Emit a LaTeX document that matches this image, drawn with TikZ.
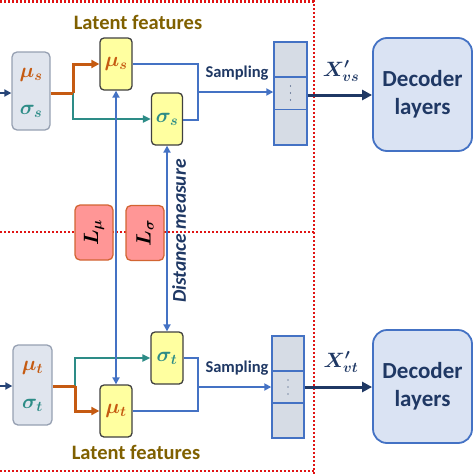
\documentclass[tikz,border=0pt]{standalone}
\usepackage{amsmath,amssymb,bm}
\usepackage{fontspec}
\setmainfont{Carlito}
\usetikzlibrary{arrows.meta,calc}
\definecolor{orng}{RGB}{197,90,17}
\definecolor{tealc}{RGB}{45,140,135}
\definecolor{blu}{RGB}{68,114,196}
\definecolor{navy}{RGB}{31,56,100}
\definecolor{olive}{RGB}{128,96,0}
\definecolor{redd}{RGB}{224,20,20}
\definecolor{yel}{RGB}{255,255,160}
\definecolor{encfill}{RGB}{224,229,238}
\definecolor{encdraw}{RGB}{150,160,178}
\definecolor{salmon}{RGB}{255,150,150}
\definecolor{salmondraw}{RGB}{210,100,50}
\definecolor{decfill}{RGB}{218,227,243}
\definecolor{vecfill}{RGB}{214,220,229}
\begin{document}
\begin{tikzpicture}[x=1pt,y=-1pt,
  encbox/.style={draw=encdraw,fill=encfill,line width=1.3pt,rounded corners=5pt,minimum width=38pt,minimum height=78pt,inner sep=0pt},
  latbox/.style={draw=black!75,fill=yel,line width=1.3pt,rounded corners=4pt,minimum width=32pt,minimum height=52pt,inner sep=0pt},
  lossbox/.style={draw=salmondraw,fill=salmon,line width=1.3pt,rounded corners=5pt,minimum width=38pt,minimum height=55pt,inner sep=0pt},
  vecbox/.style={draw=blu,fill=vecfill,line width=1.4pt,minimum width=33pt,minimum height=103pt,inner sep=0pt},
  decbox/.style={draw=blu,fill=decfill,line width=1.8pt,rounded corners=14pt,minimum width=99pt,minimum height=113pt,inner sep=0pt,align=center,text=navy,font=\fontsize{23}{28}\selectfont\bfseries},
  blueline/.style={draw=blu,line width=2pt},
  barrow/.style={blueline,-{Triangle[length=7pt,width=7pt]}},
  oline/.style={draw=orng,line width=3pt},
  tline/.style={draw=tealc,line width=2pt},
  outarrow/.style={draw=navy,line width=3pt,-{Triangle[length=10pt,width=10pt]}},
  redline/.style={draw=redd,line width=2.2pt,dash pattern=on 1.8pt off 2.2pt},
  latlabel/.style={text=olive,font=\fontsize{20.5}{22}\selectfont\bfseries},
  samplabel/.style={text=navy,font=\fontsize{16.5}{18}\selectfont\bfseries},
  mathlabel/.style={font=\fontsize{22}{24}\selectfont},
  lossl/.style={rotate=90,font=\fontsize{22}{24}\selectfont}
]
\useasboundingbox (0,0) rectangle (474,474);
% red dotted frames
\draw[redline] (0,1.5) -- (314,1.5);
\draw[redline] (0,232) -- (314,232);
\draw[redline] (0,471) -- (314,471);
\draw[redline] (314,0) -- (314,474);

% loss boxes
\node[lossbox] (Lmu) at (94,232.5) {};
\node[lossl] (Lmut) at (Lmu) {$\bm{L_{\mu}}$};
\node[lossbox] (Lsig) at (145,233) {};
\node[lossl] (Lsigt) at (Lsig) {$\bm{L_{\sigma}}$};

% encoder boxes
\node[encbox] (encS) at (31,91) {};
\node[mathlabel,text=orng] (muSlab) at (31,75) {$\bm{\mu_s}$};
\node[mathlabel,text=tealc] (sigSlab) at (31,111) {$\bm{\sigma_s}$};
\node[encbox,minimum height=80pt,minimum width=39pt] (encT) at (32.5,385) {};
\node[mathlabel,text=orng] (muTlab) at (32.5,368) {$\bm{\mu_t}$};
\node[mathlabel,text=tealc] (sigTlab) at (32.5,405) {$\bm{\sigma_t}$};

% latent boxes
\node[latbox] (muS) at (116,64) {\fontsize{20}{22}\selectfont\color{orng}$\bm{\mu_s}$};
\node[latbox,minimum width=31pt] (sigS) at (167,119) {\fontsize{20}{22}\selectfont\color{tealc}$\bm{\sigma_s}$};
\node[latbox] (sigT) at (167,358) {\fontsize{20}{22}\selectfont\color{tealc}$\bm{\sigma_t}$};
\node[latbox] (muT) at (116,411) {\fontsize{20}{22}\selectfont\color{orng}$\bm{\mu_t}$};

% titles
\node[latlabel] (latS) at (138,22) {Latent features};
\node[latlabel] (latT) at (136,452) {Latent features};

% vectors
\node[vecbox] (vecS) at (290.5,93.5) {};
\draw[blu,line width=1.4pt] (274,77) -- (307,77) (274,109.5) -- (307,109.5);
\foreach \yy in {86,93,100} \fill[navy] (290.5,\yy) circle (0.7pt);
\node[vecbox,minimum width=32pt,minimum height=102pt] (vecT) at (288,387) {};
\draw[blu,line width=1.4pt] (272,371) -- (304,371) (272,403) -- (304,403);
\foreach \yy in {380,387,394} \fill[navy] (288,\yy) circle (0.7pt);

% decoders
\node[decbox] (decS) at (422.5,94.5) {Decoder\\layers};
\node[decbox] (decT) at (422.5,386.5) {Decoder\\layers};

% inputs
\coordinate (inS) at (0,93);
\coordinate (inT) at (0,386);
\draw[draw=navy!80!blu,line width=2pt,-{Triangle[length=7pt,width=7pt]}] (inS) -- (inS -| encS.west);
\draw[draw=navy!80!blu,line width=2pt,-{Triangle[length=7pt,width=7pt]}] (inT) -- (inT -| encT.west);

% source split
\coordinate (jS) at (73,93);
\draw[tline,-{Triangle[length=8pt,width=7pt]}] (jS) |- (sigS.west);
\draw[oline,-{Triangle[length=8pt,width=8pt]}] (jS) |- (muS.west);
\draw[oline] (encS.east |- jS) -- (jS);
% target split
\coordinate (jT) at (75,386);
\draw[tline,-{Triangle[length=8pt,width=7pt]}] (jT) |- (sigT.west);
\draw[oline,-{Triangle[length=8pt,width=8pt]}] (jT) |- (muT.west);
\draw[oline] (encT.east |- jT) -- (jT);

% to sampling (source)
\coordinate (mS) at (198,92);
\draw[blueline] (muS.east) -| (198,120) -- (sigS.east |- 0,120);
\draw[barrow] (mS) -- (mS -| vecS.west);
\node[samplabel,anchor=south] (sampS) at (237,84) {Sampling};
% to sampling (target)
\coordinate (mT) at (198,387);
\draw[blueline] (sigT.east) -| (198,411) -- (muT.east);
\draw[barrow] (mT) -- (mT -| vecT.west);
\node[samplabel,anchor=south] (sampT) at (237,379) {Sampling};

% vertical double arrows
\draw[blueline,{Triangle[length=7pt,width=7pt]}-{Triangle[length=7pt,width=7pt]}] (muS.south) -- (muT.north);
\draw[blueline,{Triangle[length=7pt,width=7pt]}-{Triangle[length=7pt,width=7pt]}] (sigS.south) -- (sigT.north);
\node[rotate=90,text=navy,font=\fontsize{19.5}{21}\selectfont\bfseries\itshape] (dist) at (179,231) {Distance measure};

% outputs
\draw[outarrow] (vecS.east |- 0,95) -- (decS.west |- 0,95);
\draw[outarrow] (vecT.east |- 0,387) -- (decT.west |- 0,387);
\node[mathlabel,text=navy] (xs) at (341,71) {$\bm{X'_{vs}}$};
\node[mathlabel,text=navy] (xt) at (341,362) {$\bm{X'_{vt}}$};
\end{tikzpicture}
\end{document}
